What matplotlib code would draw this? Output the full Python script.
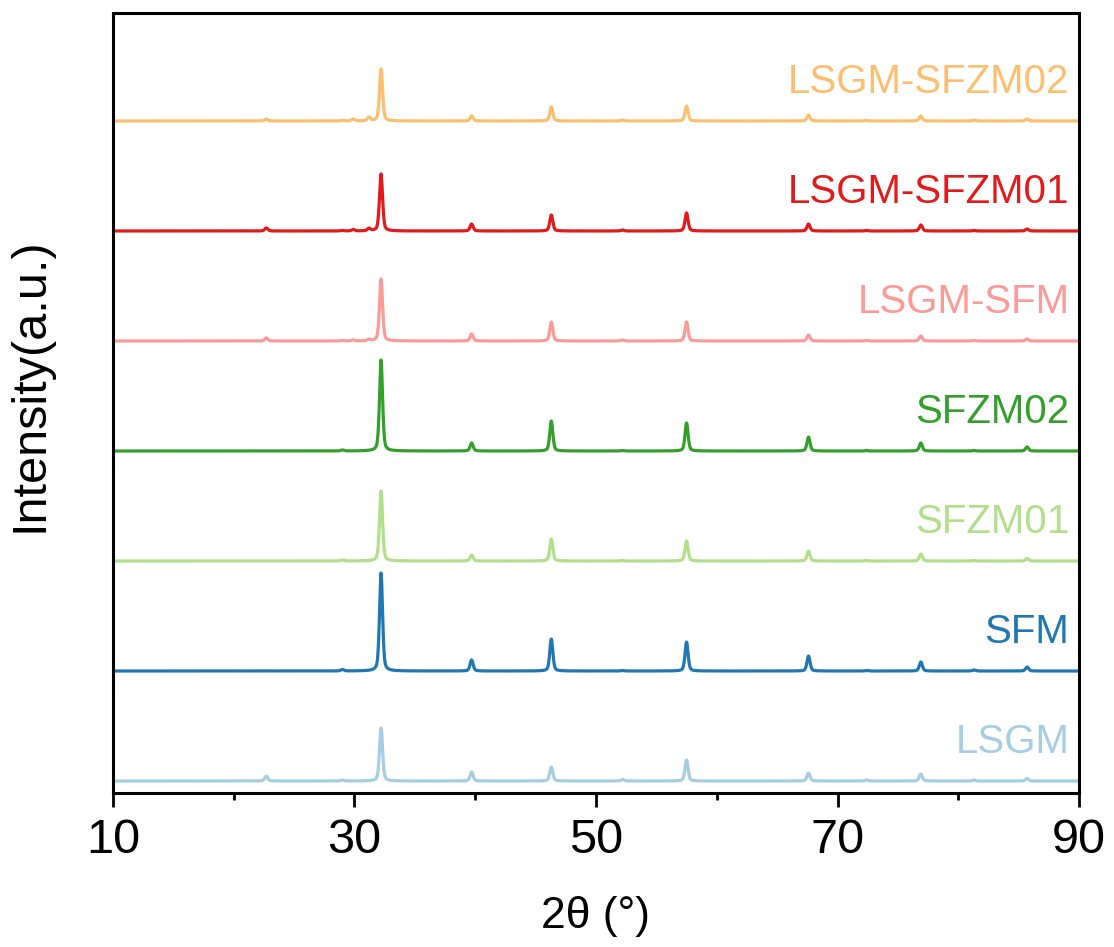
import numpy as np
import matplotlib
matplotlib.use("Agg")
import matplotlib.pyplot as plt
from matplotlib.ticker import FixedLocator

plt.rcParams['font.family'] = ['Liberation Sans', 'DejaVu Sans']

# Peak positions (2theta, deg) and heights (a.u.)
peak_pos = [22.7, 29.0, 29.9, 31.2, 32.2, 39.7, 46.3, 52.2, 57.5, 67.6, 72.4, 76.9, 81.3, 85.7]

samples = ['LSGM', 'SFM', 'SFZM01', 'SFZM02', 'LSGM-SFM', 'LSGM-SFZM01', 'LSGM-SFZM02']
colors = ['#a6cee3', '#1f78b4', '#b2df8a', '#33a02c', '#fb9a99', '#e31a1c', '#fdbf6f']

h_lsgm = [5, 1, 0, 0, 53, 9, 14, 1.5, 21, 8, 1, 7, 1, 2.5]
h_sfm = [0, 1.5, 0, 0, 98, 11, 32, 0.5, 29, 15, 0.5, 9, 1, 4]
h_sfzm01 = [0, 1, 0, 0, 70, 6, 22, 0.5, 20, 10, 0.5, 7, 0.5, 2.5]
h_sfzm02 = [0, 1, 0, 0, 91, 8, 30, 0.5, 28, 14, 0.5, 8, 0.5, 4]
h_lsgm_sfm = [3, 0.5, 1, 1.5, 62, 7, 19, 1, 19, 6, 0.5, 5, 0.5, 2]
h_lsgm_sfzm01 = [3, 0.5, 1.5, 2.5, 57, 7, 16, 1, 18, 7, 0.5, 6, 0.5, 2]
h_lsgm_sfzm02 = [2, 0.5, 2, 3.5, 52, 5, 14, 1, 15, 6, 0.5, 5, 1, 2]
heights = [h_lsgm, h_sfm, h_sfzm01, h_sfzm02, h_lsgm_sfm, h_lsgm_sfzm01, h_lsgm_sfzm02]

major_ticks = [10, 30, 50, 70, 90]
minor_ticks = [20, 40, 60, 80]

offset_step = 110


def pattern(x, pos, hts, fwhm=0.3, eta=0.4):
    # pseudo-Voigt line shape for each reflection
    y = np.zeros_like(x)
    for p, h in zip(pos, hts):
        if h <= 0:
            continue
        d = (x - p) / (fwhm / 2)
        gauss = np.exp(-np.log(2) * d ** 2)
        lor = 1 / (1 + d ** 2)
        y += h * (eta * lor + (1 - eta) * gauss)
    return y


x = np.linspace(10, 90, 8001)

fig = plt.figure(figsize=(11.14, 9.47), dpi=100)
ax = fig.add_axes([0.1014, 0.1626, 0.8672, 0.8237])

for i, (name, col, hts) in enumerate(zip(samples, colors, heights)):
    base = i * offset_step
    ax.plot(x, pattern(x, peak_pos, hts) + base, color=col, linewidth=2.3)
    ax.text(89.2, base + 20, name, color=col, fontsize=29, ha='right', va='bottom')

ax.set_xlim(10, 90)
ax.set_ylim(-12, 768)
ax.xaxis.set_major_locator(FixedLocator(major_ticks))
ax.xaxis.set_minor_locator(FixedLocator(minor_ticks))
ax.set_yticks([])
ax.tick_params(axis='x', which='major', direction='out', length=10, width=2, labelsize=35, pad=8)
ax.tick_params(axis='x', which='minor', direction='out', length=5, width=2)
for s in ax.spines.values():
    s.set_linewidth(2.2)

ax.set_xlabel('2θ (°)', fontsize=32, labelpad=24)
ax.set_ylabel('Intensity(a.u.)', fontsize=35)
ax.yaxis.set_label_coords(-0.063, 0.523)

plt.savefig('out.png', dpi=100)
